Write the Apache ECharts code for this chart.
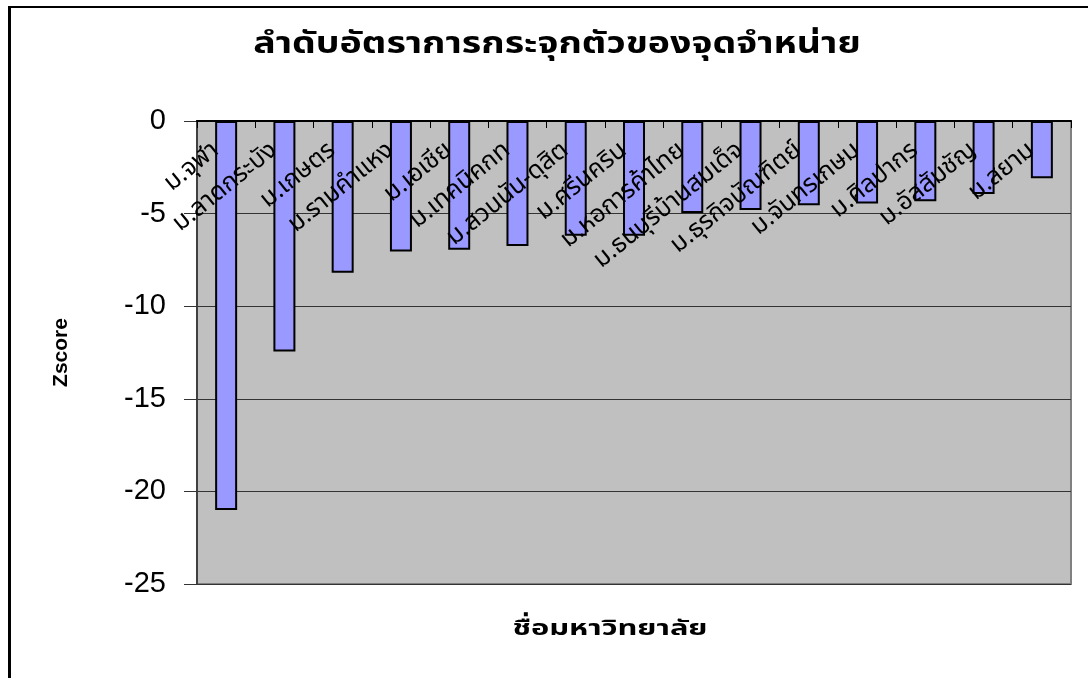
<!DOCTYPE html>
<html>
<head>
<meta charset="utf-8">
<script src="https://cdn.jsdelivr.net/npm/echarts@6/dist/echarts.min.js"></script>
<style>
html,body{margin:0;padding:0;background:#fff;}
#chart{width:1088px;height:678px;}
</style>
</head>
<body>
<div id="chart"></div>
<script>
const titleText = 'ลำดับอัตราการกระจุกตัวของจุดจำหน่าย';
const xAxisTitle = 'ชื่อมหาวิทยาลัย';
const yAxisTitle = 'Zscore';
const categories = ['ม.จุฬา','ม.ลาดกระบัง','ม.เกษตร','ม.รามคำแหง','ม.เอเชีย','ม.เทคนิคกท','ม.สวนนัน-ดุสิต','ม.ศรีนคริน','ม.หอการค้าไทย','ม.ธนบุรีบ้านสมเด็จ','ม.ธุรกิจบัณฑิตย์','ม.จันทรเกษม','ม.ศิลปากร','ม.อัสสัมชัญ','ม.สยาม'];
const zscores = [-21.0, -12.45, -8.2, -7.05, -6.95, -6.75, -6.2, -6.2, -4.97, -4.8, -4.55, -4.46, -4.33, -3.94, -3.09];
const yTicks = {min: -25, max: 0, interval: 5};

const thaiFont = 'Tahoma, "Noto Sans Thai", "Liberation Sans", "DejaVu Sans", sans-serif';
const latinFont = '"Liberation Sans", Arial, sans-serif';
const chart = echarts.init(document.getElementById('chart'));
chart.setOption({
  animation: false,
  backgroundColor: '#ffffff',
  graphic: [
    {type: 'line', shape: {x1: 9.5, y1: 6, x2: 9.5, y2: 678}, style: {stroke: '#000', lineWidth: 3}},
    {type: 'line', shape: {x1: 8, y1: 7, x2: 1088, y2: 7}, style: {stroke: '#000', lineWidth: 2}},
    {type: 'text', x: 557, y: 47, scaleX: 1.25, style: {text: titleText, x: 0, y: 0, align: 'center', verticalAlign: 'middle', font: 'bold 30px ' + thaiFont, fill: '#000'}},
    {type: 'text', x: 610, y: 631, scaleX: 1.4, style: {text: xAxisTitle, x: 0, y: 0, align: 'center', verticalAlign: 'middle', font: 'bold 22px ' + thaiFont, fill: '#000'}}
  ],
  grid: {
    left: 197, top: 121, right: 17, bottom: 94,
    show: true, backgroundColor: '#C0C0C0', borderColor: '#808080', borderWidth: 2
  },
  xAxis: {
    type: 'category',
    data: categories,
    position: 'top',
    z: 10,
    axisLine: {onZero: false, lineStyle: {color: '#000', width: 2}},
    axisTick: {show: true, inside: true, length: 7, lineStyle: {color: '#000', width: 1}},
    axisLabel: {
      inside: true, rotate: -39, margin: 20, interval: 0, fontFamily: thaiFont, fontSize: 25, color: '#000',
      padding: [0, 12, 0, 0]
    },
    splitLine: {show: false}
  },
  yAxis: {
    type: 'value',
    min: yTicks.min, max: yTicks.max, interval: yTicks.interval,
    name: yAxisTitle,
    nameLocation: 'middle',
    nameGap: 125,
    nameRotate: 90,
    nameTextStyle: {fontFamily: latinFont, fontSize: 21, fontWeight: 'bold', color: '#000'},
    axisLine: {show: true, lineStyle: {color: '#404040', width: 2}},
    axisTick: {show: true, inside: false, length: 13, lineStyle: {color: '#333', width: 1}},
    axisLabel: {margin: 31, fontFamily: latinFont, fontSize: 29, color: '#000', padding: [6, 0, 0, 0]},
    splitLine: {show: true, lineStyle: {color: '#333', width: 1}}
  },
  series: [{
    type: 'bar',
    data: zscores,
    barWidth: 22,
    z: 2,
    itemStyle: {color: '#9999FF', borderColor: '#000', borderWidth: 2}
  }]
});
</script>
</body>
</html>
